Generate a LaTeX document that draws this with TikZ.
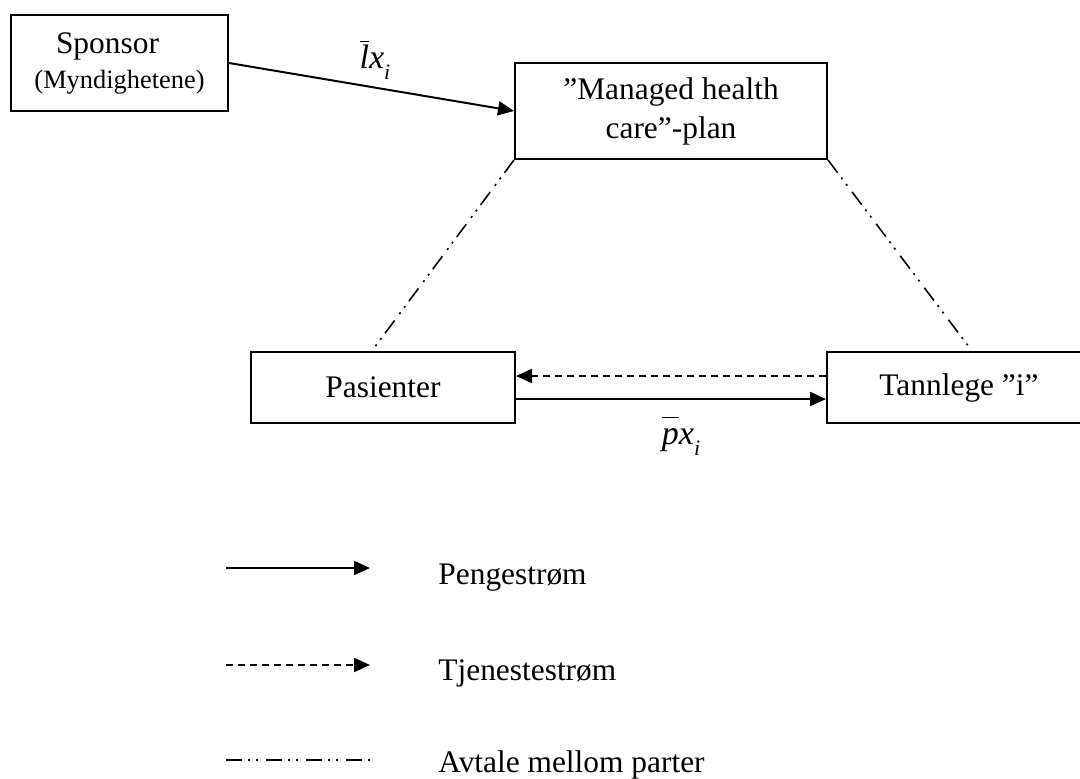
\documentclass[tikz,border=0pt]{standalone}
\usepackage{fontspec}
\setmainfont{Liberation Serif}
\usetikzlibrary{positioning,arrows.meta,calc}

\newcommand{\baritl}[1]{\ensuremath{\overline{\mbox{\textit{#1}}\vphantom{l}}}}
\newcommand{\subi}{\raisebox{-0.35em}{\fontsize{11}{12}\selectfont\textit{i}}}

\begin{document}
\begin{tikzpicture}[x=0.5pt, y=-0.5pt,
  box/.style={draw, line width=1pt, inner sep=0pt, align=center, font=\fontsize{15.7}{19.5}\selectfont},
  money/.style={line width=1pt, -{Triangle[length=8pt,width=7pt]}},
  service/.style={money, dash pattern=on 3.5pt off 2.5pt},
  agree/.style={line width=0.8pt, dash pattern=on 8pt off 3pt on 1pt off 3pt on 1pt off 4pt},
  flowlabel/.style={font=\fontsize{17}{20}\selectfont},
  legtext/.style={anchor=base west, inner xsep=0pt, font=\fontsize{15.7}{19.5}\selectfont}]
  \clip (0,0) rectangle (1080,778);
  % Boxes
  \node[box, minimum width=108.5pt, minimum height=48pt] (sponsor) at (119.5,63)
    {Sponsor\hspace*{12pt}\\[-2pt]{\fontsize{13.2}{16}\selectfont (Myndighetene)}};
  \node[box, minimum width=156pt, minimum height=48pt] (plan) at (671,111)
    {”Managed health\\care”-plan};
  \node[box, minimum width=132pt, minimum height=35.5pt] (pasienter) at (383,387.5) {Pasienter};
  \node[box, minimum width=132pt, minimum height=35.5pt] (tannlege) at (959,387.5) {Tannlege ”i”};
  % Agreements
  \draw[agree] (plan.south west) -- ($(pasienter.north west)!0.458!(pasienter.north east)$);
  \draw[agree] (plan.south east) -- ($(tannlege.north west)!0.549!(tannlege.north east)$);
  % Flows
  \draw[money] (sponsor.east) -- (plan.west);
  \draw[service] ($(tannlege.west)+(0,-11.5)$) -- ($(pasienter.east)+(0,-11.5)$);
  \draw[money] ($(pasienter.east)+(0,11.5)$) -- ($(tannlege.west)+(0,11.5)$);
  \node[flowlabel] (lx) at (375,60) {\baritl{l}\textit{x}\subi};
  \node[flowlabel] (px) at (681,436) {\baritl{p}\textit{x}\subi};
  % Legend
  \coordinate (pengeA) at (226,568);
  \coordinate (pengeB) at (370,568);
  \coordinate (tjenA) at (226,665);
  \coordinate (tjenB) at (370,665);
  \coordinate (avtA) at (226,760);
  \coordinate (avtB) at (370,760);
  \draw[money] (pengeA) -- (pengeB);
  \draw[service] (tjenA) -- (tjenB);
  \draw[agree] (avtA) -- (avtB);
  \node[legtext] (penge) at (438,584) {Pengestrøm};
  \node[legtext] (tjen) at (438,680) {Tjenestestrøm};
  \node[legtext] (avt) at (438,772) {Avtale mellom parter};
\end{tikzpicture}
\end{document}
